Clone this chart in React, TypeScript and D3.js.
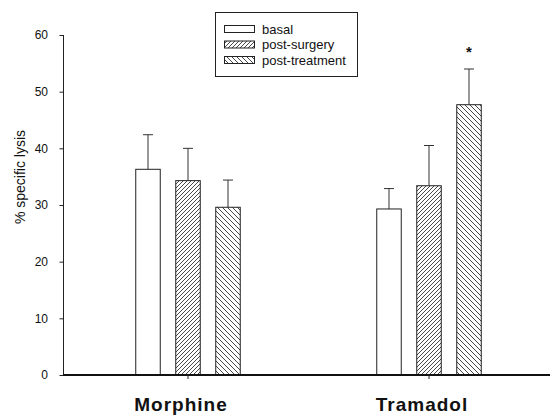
import React from "react";
import * as d3 from "d3";

const groups = ["Morphine", "Tramadol"];
const seriesNames = ["basal", "post-surgery", "post-treatment"];
const basal = [36.3, 29.3];
const postSurgery = [34.3, 33.4];
const postTreatment = [29.6, 47.7];
const basalErr = [6.1, 3.6];
const postSurgeryErr = [5.7, 7.1];
const postTreatmentErr = [4.8, 6.3];
const yTicks = [0, 10, 20, 30, 40, 50, 60];
const significant = [
  [false, false, false],
  [false, false, true],
];

const W = 550;
const H = 416;
const FONT = "'Liberation Sans', Arial, Helvetica, sans-serif";

export default function App() {
  const values = [basal, postSurgery, postTreatment];
  const errors = [basalErr, postSurgeryErr, postTreatmentErr];
  const fills = ["#ffffff", "url(#hatchFwd)", "url(#hatchBack)"];

  const y = d3.scaleLinear().domain([0, 60]).range([375, 35]);
  const x0 = d3.scalePoint<string>().domain(groups).range([188, 429]);
  const x1 = d3
    .scaleBand<string>()
    .domain(seriesNames)
    .range([-60, 60])
    .paddingInner(0.3875)
    .paddingOuter(0.19375);
  const bw = x1.bandwidth();
  const axisX = 63.5;

  return (
    <svg
      width={W}
      height={H}
      style={{ position: "absolute", left: 0, top: 0, background: "#fff" }}
      fontFamily={FONT}
    >
      <defs>
        <pattern id="hatchFwd" patternUnits="userSpaceOnUse" width={4} height={4}>
          <rect width={4} height={4} fill="#fff" />
          <path d="M-1,1 l2,-2 M0,4 l4,-4 M3,5 l2,-2" stroke="#333" strokeWidth={0.9} />
        </pattern>
        <pattern id="hatchBack" patternUnits="userSpaceOnUse" width={5} height={5}>
          <rect width={5} height={5} fill="#fff" />
          <path d="M-1,4 l2,2 M0,0 l5,5 M4,-1 l2,2" stroke="#333" strokeWidth={0.9} />
        </pattern>
      </defs>

      {/* y axis */}
      <line x1={axisX} x2={axisX} y1={y(60)} y2={y(0)} stroke="#222" strokeWidth={1} />
      {yTicks.map((t) => (
        <g key={t}>
          <line x1={axisX - 4} x2={axisX} y1={y(t) + 0.5} y2={y(t) + 0.5} stroke="#222" strokeWidth={1} />
          <text x={48} y={y(t)} dy="0.36em" textAnchor="end" fontSize={12} fill="#111">
            {t}
          </text>
        </g>
      ))}
      <text
        transform={`translate(25, 177) rotate(-90)`}
        textAnchor="middle"
        fontSize={14}
        fill="#111"
      >
        % specific lysis
      </text>

      {/* bars */}
      {groups.map((g, gi) => (
        <g key={g}>
          {seriesNames.map((s, si) => {
            const v = values[si][gi];
            const e = errors[si][gi];
            const bx = (x0(g) as number) + (x1(s) as number);
            const cx = bx + bw / 2;
            return (
              <g key={s}>
                <line x1={cx} x2={cx} y1={y(v)} y2={y(v + e)} stroke="#333" strokeWidth={1} />
                <line x1={cx - 5} x2={cx + 5} y1={y(v + e)} y2={y(v + e)} stroke="#333" strokeWidth={1} />
                <rect
                  x={bx}
                  y={y(v)}
                  width={bw}
                  height={y(0) - y(v)}
                  fill={fills[si]}
                  stroke="#222"
                  strokeWidth={1}
                />
                {significant[gi][si] && (
                  <text x={cx} y={y(v + e) - 12} textAnchor="middle" fontSize={15} fontWeight="bold" fill="#111">
                    *
                  </text>
                )}
              </g>
            );
          })}
        </g>
      ))}

      {/* x axis */}
      <line x1={axisX - 0.5} x2={W} y1={y(0)} y2={y(0)} stroke="#111" strokeWidth={2} />
      {groups.map((g) => (
        <g key={g}>
          <line x1={x0(g)} x2={x0(g)} y1={y(0)} y2={y(0) + 4} stroke="#222" strokeWidth={1} />
          <text
            x={(x0(g) as number) - 7}
            y={411}
            textAnchor="middle"
            fontSize={19}
            fontWeight="bold"
            letterSpacing={1}
            fill="#111"
          >
            {g}
          </text>
        </g>
      ))}

      {/* legend */}
      <rect x={215.5} y={12.5} width={142} height={64} fill="#fff" stroke="#222" strokeWidth={1} />
      {seriesNames.map((s, si) => (
        <g key={s}>
          <rect x={224.5} y={25.5 + si * 15.5} width={30} height={7} fill={fills[si]} stroke="#222" strokeWidth={1} />
          <text x={262} y={29 + si * 15.5} dy="0.36em" fontSize={13} fill="#111">
            {s}
          </text>
        </g>
      ))}
    </svg>
  );
}
